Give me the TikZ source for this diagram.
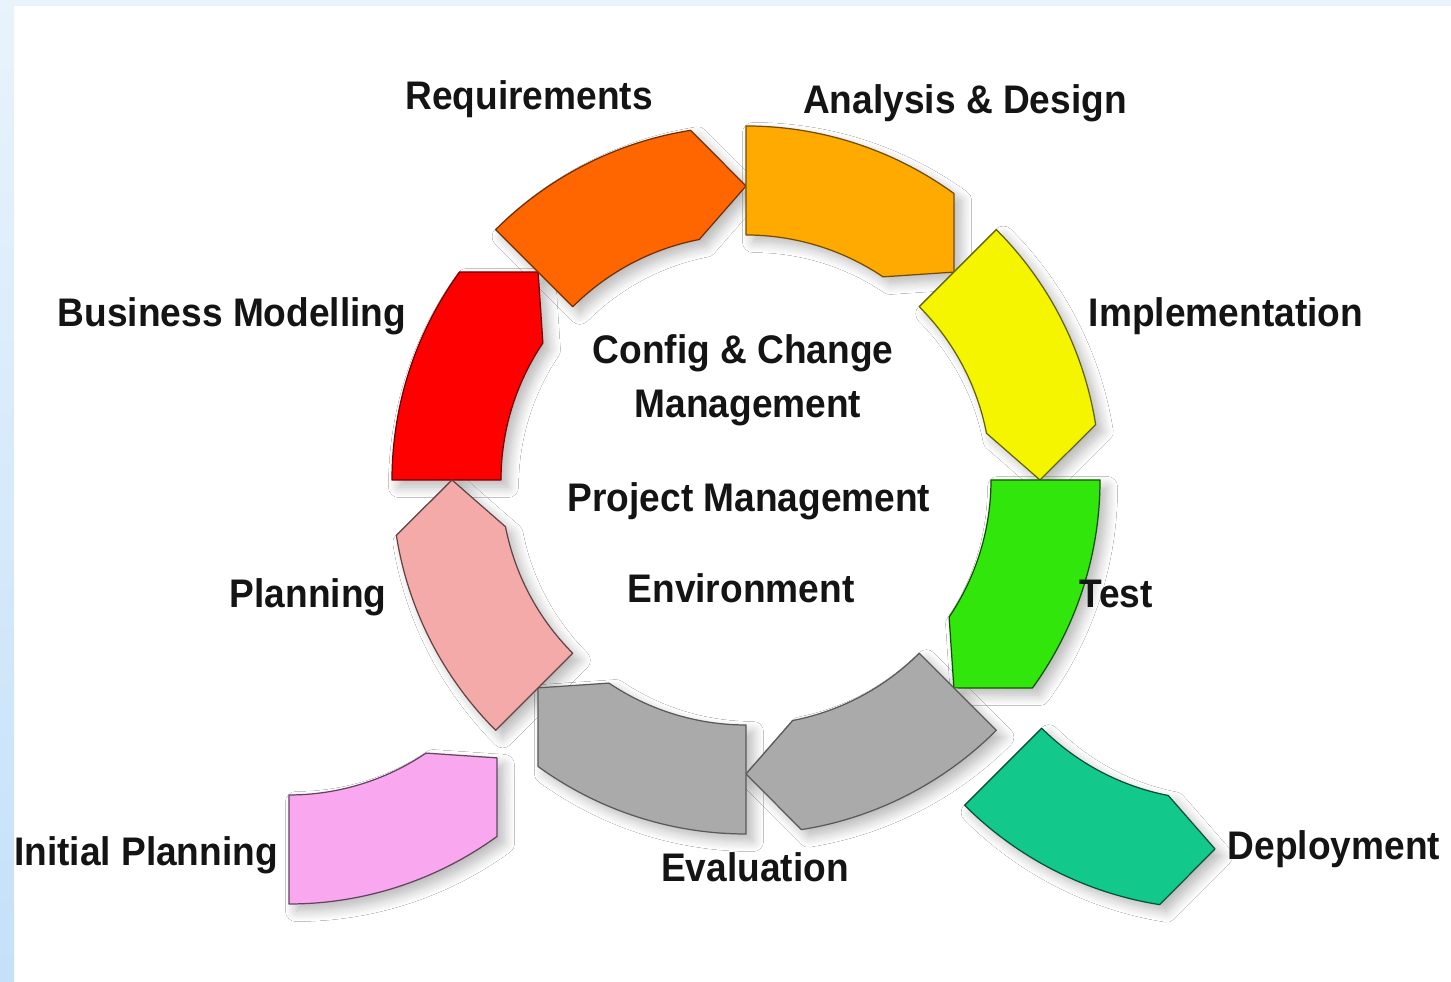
\documentclass[tikz,border=0pt]{standalone}
\usepackage{fontspec}
\setmainfont{Liberation Sans}[FakeStretch=0.93]
\usepackage{tikz}
\usetikzlibrary{shadows.blur}

\definecolor{bizred}{HTML}{FF0000}
\definecolor{reqorange}{HTML}{FF6600}
\definecolor{anaamber}{HTML}{FFAA00}
\definecolor{impyellow}{HTML}{F5F500}
\definecolor{testgreen}{HTML}{30E60A}
\definecolor{evalgray}{HTML}{AAAAAA}
\definecolor{planpink}{HTML}{F5AAAA}
\definecolor{initpink}{HTML}{F9A8F0}
\definecolor{deplteal}{HTML}{12C88A}
\definecolor{bandtop}{HTML}{E8F3FC}
\definecolor{bandlow}{HTML}{C4E1F8}

\pgfdeclarelayer{shade}
\pgfsetlayers{shade,main}

% arc arrow: centre, tail angle, direction (1 = clockwise, -1 = anticlockwise), style
\newcommand{\phase}[4]{%
  \begin{pgfonlayer}{shade}
    \path[shift={(#1)}, blur shadow={shadow xshift=4pt, shadow yshift=-4pt,
        shadow blur radius=6pt, shadow blur steps=10, shadow opacity=28}]
      (#2:354) arc[start angle=#2, end angle={#2-36*(#3)}, radius=354]
      -- ({#2-45*(#3)}:294) -- ({#2-34*(#3)}:245)
      arc[start angle={#2-34*(#3)}, end angle=#2, radius=245] -- cycle;
  \end{pgfonlayer}
  \draw[shift={(#1)}, #4]
    (#2:354) arc[start angle=#2, end angle={#2-36*(#3)}, radius=354]
    -- ({#2-45*(#3)}:294) -- ({#2-34*(#3)}:245)
    arc[start angle={#2-34*(#3)}, end angle=#2, radius=245] -- cycle;}

\begin{document}
\begin{tikzpicture}[x=0.02cm, y=0.02cm, line join=round]
  \tikzstyle{lbl}=[font=\bfseries\fontsize{22.7}{27}\selectfont, text=black!92, anchor=base, inner sep=0pt]
  \tikzstyle{seg}=[line width=0.7pt]

  \useasboundingbox (0,0) rectangle (1451,982);
  \begin{pgfonlayer}{shade}
    \fill[white] (0,0) rectangle (1451,982);
    \shade[top color=bandtop, bottom color=bandlow] (0,0) rectangle (14,982);
    \fill[bandtop] (14,976) rectangle (1451,982);
  \end{pgfonlayer}

  % the cycle
  \phase{746,502}{180}{1}{seg, fill=bizred, draw=red!45!black}
  \phase{746,502}{135}{1}{seg, fill=reqorange, draw=reqorange!45!black}
  \phase{746,502}{90}{1}{seg, fill=anaamber, draw=anaamber!45!black}
  \phase{746,502}{45}{1}{seg, fill=impyellow, draw=impyellow!40!black}
  \phase{746,502}{0}{1}{seg, fill=testgreen, draw=testgreen!35!black}
  \phase{746,502}{-45}{1}{seg, fill=evalgray, draw=black!65}
  \phase{746,502}{-90}{1}{seg, fill=evalgray, draw=black!65}
  \phase{746,502}{-135}{1}{seg, fill=planpink, draw=planpink!40!black}
  % entry and exit
  \phase{289,432}{-90}{-1}{seg, fill=initpink, draw=initpink!40!black}
  \phase{1215,427}{-135}{-1}{seg, fill=deplteal, draw=deplteal!40!black}

  \node[lbl] (req) at (529,872) {Requirements};
  \node[lbl] (ana) at (965,868) {Analysis \& Design};
  \node[lbl] (bus) at (232,655) {Business Modelling};
  \node[lbl] (imp) at (1226,655) {Implementation};
  \node[lbl] (cfg) at (743,618) {Config \& Change};
  \node[lbl] (mgt) at (748,564) {Management};
  \node[lbl] (prj) at (749,470) {Project Management};
  \node[lbl] (env) at (741,379) {Environment};
  \node[lbl] (pln) at (308,374) {Planning};
  \node[lbl] (tst) at (1116,374) {Test};
  \node[lbl] (ini) at (146,116) {Initial Planning};
  \node[lbl] (eva) at (755,100) {Evaluation};
  \node[lbl] (dep) at (1334,122) {Deployment};
\end{tikzpicture}
\end{document}
